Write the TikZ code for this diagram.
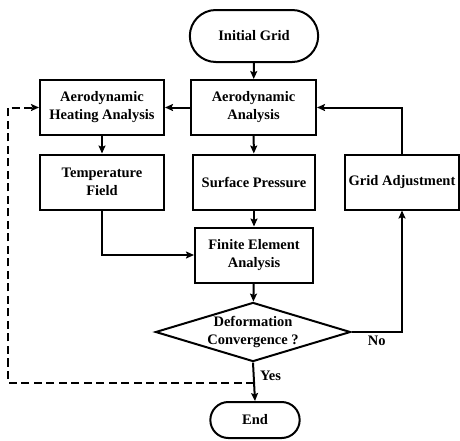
\documentclass[tikz,border=0pt]{standalone}
\usepackage{fontspec}
\setmainfont{Liberation Serif}
\usepackage{tikz}
\usetikzlibrary{shapes.geometric}
\usetikzlibrary{shapes.misc}
\usetikzlibrary{arrows.meta}
\usetikzlibrary{calc}

\newcommand{\flowfont}{\fontsize{14.5}{18}\selectfont\bfseries}

\begin{document}
\begin{tikzpicture}[x=1pt, y=-1pt]
        % ================= 样式定义 =================
        \tikzset{
            % 处理框:白底黑边矩形
            procbox/.style={rectangle, draw=black, line width=2pt, fill=white, minimum height=55pt, inner sep=2pt, align=center, font=\flowfont},
            % 起止框:两端半圆
            termbox/.style={rounded rectangle, draw=black, line width=2pt, fill=white, font=\flowfont},
            % 判断框:菱形
            judgebox/.style={diamond, draw=black, line width=2pt, fill=white, aspect=3.3, inner sep=0pt, minimum width=194pt, minimum height=58pt, align=center, font=\flowfont},
            % 实线箭头
            flow_edge/.style={line width=2pt, -{Stealth[length=8pt, width=7pt, inset=1.5pt]}},
            % 虚线回路箭头
            back_edge/.style={flow_edge, dash pattern=on 8pt off 4.5pt}
        }

        \useasboundingbox (0,0) rectangle (460,440);

        % ================= 节点 =================
        \node[termbox, minimum width=135pt, minimum height=52pt] (init) at (254,36) {Initial Grid};
        \node[procbox, minimum width=125pt] (aero) at (253.5,107.5) {Aerodynamic\\Analysis};
        \node[procbox, minimum width=124pt] (heat) at (102,107.5) {Aerodynamic\\Heating Analysis};
        \node[procbox, minimum width=124pt] (temp) at (102,182) {Temperature\\Field};
        \node[procbox, minimum width=122pt] (press) at (254,182) {Surface Pressure};
        \node[procbox, minimum width=114pt] (adjust) at (402,182) {Grid Adjustment};
        \node[procbox, minimum width=118pt] (fea) at (254,255) {Finite Element\\Analysis};
        \node[judgebox] (conv) at (253,332) {Deformation\\Convergence ?};
        \node[termbox, minimum width=96pt, minimum height=36pt] (end) at (255,420) {End};

        % ================= 连线 =================
        \draw[flow_edge] (init) -- (aero);
        \draw[flow_edge] (aero) -- (heat);
        \draw[flow_edge] (heat) -- (temp);
        \draw[flow_edge] (aero) -- (press);
        \draw[flow_edge] (press) -- (fea);
        \draw[flow_edge] (temp.south) |- (fea.west);
        \draw[flow_edge] (fea) -- (conv);

        % 不收敛:调整网格后返回气动分析
        \draw[flow_edge] (conv.east) -| node[pos=0.25, below, font=\flowfont] {No} (adjust.south);
        \draw[flow_edge] (adjust.north) |- (aero.east);

        % 收敛:结束,同时虚线返回气动热分析
        \draw[flow_edge] (conv.south) -- node[pos=0.35, right, xshift=2pt, font=\flowfont] {Yes} (end.north);
        \coordinate (split) at ($(conv.south)!0.53!(end.north)$);
        \draw[back_edge] (split) -| ($(heat.west)+(-31,0)$) -- (heat.west);

\end{tikzpicture}
\end{document}
